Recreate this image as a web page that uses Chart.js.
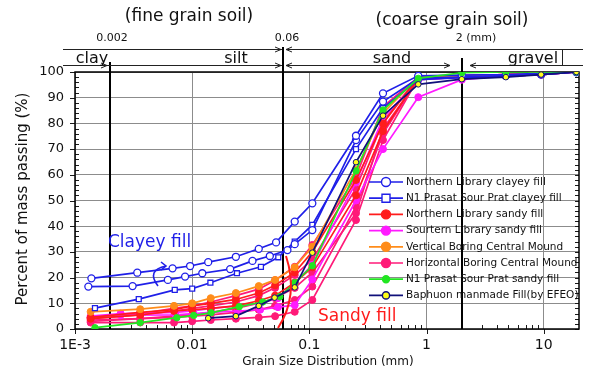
<!DOCTYPE html>
<html>
<head>
<meta charset="utf-8">
<script src="https://cdn.jsdelivr.net/npm/chart.js@4.4.1/dist/chart.umd.min.js"></script>
<style>
  html, body { margin: 0; padding: 0; background: #fff; }
  #wrap { width: 590px; height: 372px; }
</style>
</head>
<body>
<div id="wrap"><canvas id="gradation" width="590" height="372"></canvas></div>
<script>
// sieve openings (mm), shared by every sample
const sieveMm = [19, 9.5, 4.75, 2, 0.85, 0.425, 0.25, 0.106, 0.075];

// hydrometer particle diameters (mm)
const hydroClayA = [0.052, 0.037, 0.0236, 0.0137, 0.0096, 0.0068, 0.0034, 0.00138];
const hydroClayB = [0.065, 0.046, 0.0327, 0.0211, 0.0122, 0.0087, 0.0062, 0.0031, 0.0013];
const hydroClayC = [0.0543, 0.0386, 0.0241, 0.0143, 0.010, 0.0071, 0.0035, 0.00148];
const hydroSand = [0.051, 0.037, 0.0236, 0.0144, 0.010, 0.007, 0.0036, 0.00136];
const hydroSandB = [0.056, 0.040, 0.0252, 0.0145, 0.0103, 0.0074, 0.0036, 0.00148];
const hydroSandC = [0.054, 0.038, 0.0245, 0.0145, 0.0102, 0.0072, 0.00245, 0.00136];
const hydroEfeo = [0.0505, 0.037, 0.0236, 0.0137];

// percent passing (sieves first, then hydrometer)
const passClayA = [100, 99.5, 99, 98.8, 98.5, 91.7, 75.2, 48.9, 41.8, 33.7, 31.2, 28.1, 26.0, 24.5, 23.6, 21.9, 19.7];
const passClayB = [100, 99, 98.5, 98, 97.5, 88.5, 73.5, 38.5, 33, 30.7, 28.4, 26.5, 23.3, 21.7, 20.4, 19.1, 16.7, 16.5];
const passClayC = [100, 99, 98.5, 97.8, 97, 86, 70, 40.5, 34, 27.9, 24.2, 21.7, 18.0, 15.7, 15.2, 11.6, 8.1];
const passNlSand1 = [100, 99.5, 99, 98.5, 98, 80, 58, 30, 22, 17, 14, 11.5, 10, 9, 7.5, 6.5, 4.5];
const passNlSand2 = [100, 99, 98.5, 98, 97.5, 77, 52, 24, 18, 13, 11, 9, 8, 7.5, 7, 5.5, 4];
const passSlSand1 = [100, 99, 98.5, 97, 90.2, 70, 50, 19.3, 9.3, 8.5, 7.5, 7, 6.5, 6, 5.5, 5.4, 4.5];
const passSlSand2 = [100, 99.5, 99, 98, 97, 82, 57, 25, 18, 12, 10, 9, 8, 7, 6.5, 6, 5];
const passVbcm = [100, 99.5, 99, 98.5, 98, 84, 62, 32, 24, 19.1, 16.7, 14, 12, 10, 9, 7.7, 6.7];
const passHbcm1 = [100, 99.5, 99, 98.5, 98, 86.5, 59.3, 32.7, 24.2, 19, 15.5, 13, 10.5, 9, 8, 6, 4.5];
const passHbcm2 = [100, 99.5, 99, 98.5, 98, 80.7, 54.7, 27, 21, 16, 13, 10.5, 9, 8, 7, 5.5, 4];
const passHbcm3 = [100, 99.5, 99, 98.5, 97.5, 76.1, 47.6, 16.5, 11.3, 9, 7.5, 6.5, 5.5, 5, 4.5, 4, 3.5];
const passHbcm4 = [100, 99.5, 99, 98, 97.5, 73.5, 42.4, 11.3, 6.7, 5, 4.5, 4, 3.5, 3, 2.5, 2.5, 2.5];
const passHbcm5 = [100, 99, 98.5, 98, 97, 78, 45, 22, 16, 12, 10, 8, 6.5, 5.5, 5, 4, 3];
const passN1Sand = [100, 100, 100, 99.7, 97.5, 85.2, 61.5, 24.6, 18, 12.6, 10.5, 8.7, 6.3, 5.3, 4.4, 2.5, 0.5];
const passEfeo = [100, 99, 98, 97.2, 95.2, 83, 64.9, 29.7, 16.2, 12.2, 9, 5, 4.2];

const legendLabels = [
  'Northern Library clayey fill',
  'N1 Prasat Sour Prat clayey fill',
  'Northern Library sandy fill',
  'Sourtern Library sandy fill',
  'Vertical Boring Central Mound',
  'Horizontal Boring Central Mound',
  'N1 Prasat Sour Prat sandy fill',
  'Baphuon manmade Fill(by EFEO)'
];
const lineColors = ['#1f1fe8', '#1f1fe8', '#ff1c1c', '#ff1aff', '#ff8c1a', '#ff1a78', '#22e622', '#10107a'];
const markerFill = ['#ffffff', '#ffffff', '#ff1c1c', '#ff1aff', '#ff8c1a', '#ff1a78', '#22e622', '#ffff1a'];
const markerShape = ['circle', 'rect', 'circle', 'circle', 'circle', 'circle', 'circle', 'circle'];

// [legend group, hydrometer sizes, passing] -- first entry ends up on top
const curves = [
  [7, hydroEfeo, passEfeo],
  [6, hydroSandB, passN1Sand],
  [0, hydroClayA, passClayA],
  [0, hydroClayB, passClayB],
  [1, hydroClayC, passClayC],
  [4, hydroSand, passVbcm],
  [2, hydroSand, passNlSand1],
  [2, hydroSand, passNlSand2],
  [3, hydroSandC, passSlSand1],
  [3, hydroSandC, passSlSand2],
  [5, hydroSand, passHbcm1],
  [5, hydroSand, passHbcm2],
  [5, hydroSand, passHbcm3],
  [5, hydroSand, passHbcm4],
  [5, hydroSand, passHbcm5]
];

const xTickValues = [0.001, 0.01, 0.1, 1, 10];
const xTickLabels = ['1E-3', '0.01', '0.1', '1', '10'];

const FONT = '"DejaVu Sans", Verdana, sans-serif';

const datasets = curves.map(([g, hydro, pass]) => {
  const sizes = sieveMm.concat(hydro);
  return {
    label: legendLabels[g],
    data: sizes.map((s, i) => ({ x: s, y: pass[i] })),
    borderColor: lineColors[g],
    borderWidth: 1.7,
    pointStyle: markerShape[g],
    pointRadius: g === 6 ? 3.2 : (g === 7 ? 2.8 : 3.5),
    pointBackgroundColor: markerFill[g],
    pointBorderColor: lineColors[g],
    pointBorderWidth: g <= 1 ? 1.3 : 1,
    tension: 0
  };
});

function arrowHead(ctx, x, y, dir) {
  ctx.beginPath();
  ctx.moveTo(x - dir * 6, y - 2.5);
  ctx.lineTo(x, y);
  ctx.lineTo(x - dir * 6, y + 2.5);
  ctx.stroke();
}

function hLine(ctx, x1, x2, y) {
  ctx.beginPath();
  ctx.moveTo(x1, y);
  ctx.lineTo(x2, y);
  ctx.stroke();
}

const soilDecor = {
  id: 'soilDecor',
  beforeDatasetsDraw(chart) {
    const { ctx, chartArea: a, scales: { x, y } } = chart;
    ctx.save();
    ctx.strokeStyle = '#1a1a1a';
    ctx.lineWidth = 1;
    ctx.beginPath();
    for (let v = 0; v <= 100; v += 2) {
      const py = Math.round(y.getPixelForValue(v)) + 0.5;
      if (v % 10 === 0) {
        ctx.moveTo(a.left - 5, py); ctx.lineTo(a.left, py);
      } else {
        ctx.moveTo(a.left, py); ctx.lineTo(a.left + 4, py);
      }
      ctx.moveTo(a.right - 4, py); ctx.lineTo(a.right, py);
    }
    xTickValues.forEach(d => {
      const px = Math.round(x.getPixelForValue(d)) + 0.5;
      ctx.moveTo(px, a.bottom); ctx.lineTo(px, a.bottom + 5);
      for (let k = 2; k <= 9; k++) {
        const v = k * d;
        if (v >= 20) break;
        const mx = Math.round(x.getPixelForValue(v)) + 0.5;
        ctx.moveTo(mx, a.bottom); ctx.lineTo(mx, a.bottom - 4);
      }
    });
    ctx.stroke();

    // size class boundaries
    ctx.strokeStyle = '#000';
    ctx.lineWidth = 2;
    [[0.002, 62], [0.06, 47], [2, 58]].forEach(([v, top]) => {
      const px = Math.round(x.getPixelForValue(v));
      ctx.beginPath();
      ctx.moveTo(px, top);
      ctx.lineTo(px, a.bottom);
      ctx.stroke();
    });

    ctx.lineWidth = 1.5;
    ctx.strokeRect(a.left, a.top, a.right - a.left, a.bottom - a.top);
    ctx.restore();
  },
  afterDraw(chart) {
    const { ctx, scales: { x } } = chart;
    const x002 = Math.round(x.getPixelForValue(0.002));
    const x06 = Math.round(x.getPixelForValue(0.06));
    const x2 = Math.round(x.getPixelForValue(2));
    ctx.save();

    // header: soil classes
    ctx.fillStyle = '#111';
    ctx.textAlign = 'center';
    ctx.textBaseline = 'middle';
    ctx.font = '17px ' + FONT;
    ctx.fillText('(fine grain soil)', 189, 17);
    ctx.fillText('(coarse grain soil)', 452, 21);
    ctx.font = '11px ' + FONT;
    ctx.fillText('0.002', x002 + 2, 38);
    ctx.fillText('0.06', x06 + 4, 38);
    ctx.fillText('2 (mm)', x2 + 14, 38);

    ctx.strokeStyle = '#222';
    ctx.lineWidth = 1;
    hLine(ctx, 63, x06 - 1, 49.5);
    arrowHead(ctx, x06 - 2, 49.5, 1);
    hLine(ctx, x06 + 3, 583, 49.5);
    arrowHead(ctx, x06 + 3, 49.5, -1);
    ctx.beginPath();
    ctx.moveTo(562.5, 49.5); ctx.lineTo(562.5, 65);
    ctx.stroke();

    hLine(ctx, 63, x06 - 1, 65.5);
    arrowHead(ctx, x002 - 3, 65.5, 1);
    arrowHead(ctx, x06 - 2, 65.5, 1);
    hLine(ctx, x06 + 3, x2 - 12, 65.5);
    arrowHead(ctx, x06 + 3, 65.5, -1);
    arrowHead(ctx, x2 - 12, 65.5, 1);
    hLine(ctx, x2 + 8, 583, 65.5);
    arrowHead(ctx, x2 + 8, 65.5, -1);

    ctx.font = '16px ' + FONT;
    ctx.textBaseline = 'alphabetic';
    ctx.fillText('clay', 92, 63);
    ctx.fillText('silt', 236, 63);
    ctx.fillText('sand', 392, 63);
    ctx.fillText('gravel', 533, 63);

    // axis titles
    ctx.textBaseline = 'middle';
    ctx.font = '12px ' + FONT;
    ctx.fillText('Grain Size Distribution (mm)', 328, 362);
    ctx.save();
    ctx.translate(23, 199);
    ctx.rotate(-Math.PI / 2);
    ctx.font = '15px ' + FONT;
    ctx.fillText('Percent of mass passing (%)', 0, 0);
    ctx.restore();

    // fill labels
    ctx.textAlign = 'left';
    ctx.font = '17px ' + FONT;
    ctx.fillStyle = lineColors[0];
    ctx.fillText('Clayey fill', 108, 243);
    ctx.fillStyle = '#ff1c1c';
    ctx.fillText('Sandy fill', 318, 317);

    ctx.lineWidth = 1.6;
    ctx.strokeStyle = lineColors[0];
    ctx.beginPath();
    ctx.moveTo(166, 266);
    ctx.quadraticCurveTo(146, 270, 158, 286);
    ctx.stroke();
    ctx.beginPath();
    ctx.moveTo(161, 262); ctx.lineTo(166, 266); ctx.lineTo(161, 270);
    ctx.stroke();

    ctx.strokeStyle = '#ff1c1c';
    ctx.lineWidth = 2;
    ctx.beginPath();
    ctx.moveTo(286, 256);
    ctx.quadraticCurveTo(299, 296, 278, 328);
    ctx.stroke();

    // legend
    ctx.font = '10.5px ' + FONT;
    ctx.textBaseline = 'middle';
    legendLabels.forEach((label, i) => {
      const ly = 182 + i * 16.2;
      ctx.strokeStyle = lineColors[i];
      ctx.lineWidth = 1.7;
      hLine(ctx, 369, 403, ly);
      ctx.fillStyle = markerFill[i];
      ctx.lineWidth = 1.4;
      const r = i === 6 ? 3.5 : (i === 7 ? 3.6 : 4.5);
      ctx.beginPath();
      if (markerShape[i] === 'rect') {
        ctx.rect(386 - 4, ly - 4, 8, 8);
      } else {
        ctx.arc(386, ly, r, 0, Math.PI * 2);
      }
      ctx.fill();
      ctx.stroke();
      ctx.fillStyle = '#111';
      ctx.fillText(label, 406, ly);
    });
    ctx.restore();
  }
};

new Chart(document.getElementById('gradation').getContext('2d'), {
  type: 'line',
  data: { datasets },
  options: {
    responsive: false,
    animation: false,
    devicePixelRatio: 1,
    layout: { padding: { top: 72, right: 11, left: 0, bottom: 0 } },
    plugins: {
      legend: { display: false },
      tooltip: { enabled: false }
    },
    scales: {
      x: {
        type: 'logarithmic',
        min: 0.001,
        max: 20,
        afterBuildTicks: s => { s.ticks = xTickValues.map(v => ({ value: v })); },
        afterFit: s => { s.height = 43; },
        grid: { color: '#8c8c8c', lineWidth: 1, drawTicks: false },
        border: { display: false },
        ticks: {
          autoSkip: false,
          maxRotation: 0,
          padding: 8,
          color: '#111',
          font: { family: FONT, size: 14 },
          callback: v => xTickLabels[xTickValues.indexOf(v)]
        }
      },
      y: {
        min: 0,
        max: 100,
        afterFit: s => { s.width = 75; },
        grid: { color: '#8c8c8c', lineWidth: 1, drawTicks: false },
        border: { display: false },
        ticks: {
          stepSize: 10,
          padding: 11,
          color: '#111',
          font: { family: FONT, size: 13 }
        }
      }
    }
  },
  plugins: [soilDecor]
});
</script>
</body>
</html>
